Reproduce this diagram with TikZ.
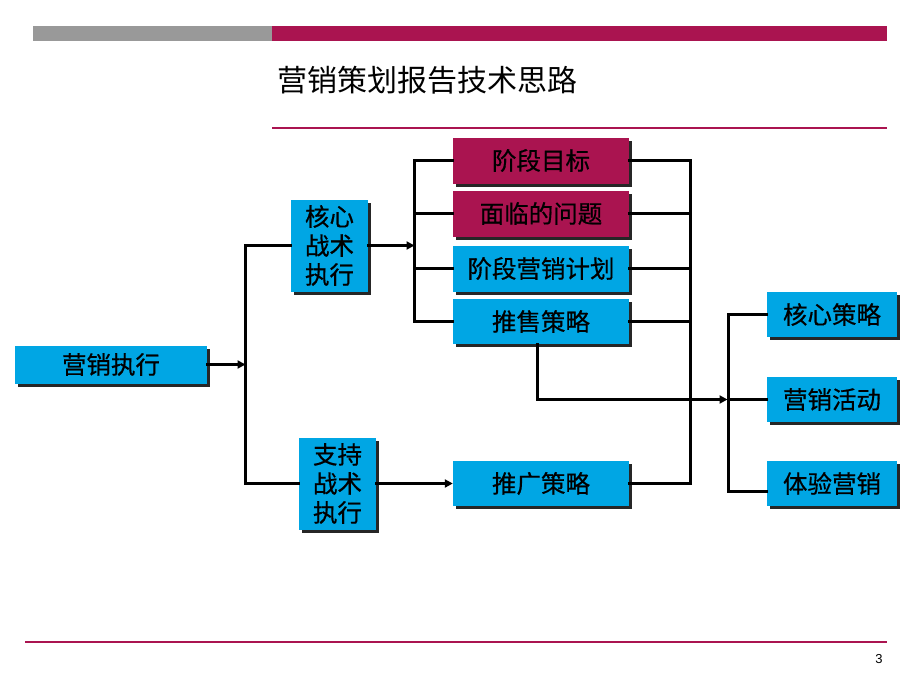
\documentclass[tikz,border=0pt]{standalone}
\usepackage{fontspec}
\newfontfamily\cjk{Noto Sans CJK SC}
\newfontfamily\cjkb[FakeBold=0.6]{Noto Sans CJK SC}
\setmainfont{Liberation Sans}
\usetikzlibrary{arrows.meta,shadows}
\definecolor{mag}{RGB}{170,20,80}
\definecolor{sky}{RGB}{0,166,228}
\definecolor{bargray}{RGB}{153,153,153}
\tikzset{
  box/.style={draw=none, inner sep=0pt, align=center, font=\cjkb\fontsize{24.5}{29}\selectfont,
    general shadow={fill=black!85, shadow xshift=3pt, shadow yshift=-3pt}},
  bluebox/.style={box, fill=sky},
  magbox/.style={box, fill=mag},
  wide/.style={minimum width=176pt, minimum height=46pt},
  rbox/.style={minimum width=130pt, minimum height=45pt},
  tall/.style={minimum width=77pt, minimum height=92pt},
  conn/.style={line width=3pt, line cap=rect},
  arr/.style={conn, -{Triangle[length=8pt,width=8pt]}},
}
\begin{document}
\begin{tikzpicture}[x=1pt,y=-1pt]
\path[use as bounding box, fill=white] (0,0) rectangle (920,690);
% header
\fill[bargray] (33,26) rectangle (272,41);
\fill[mag] (272,26) rectangle (887,41);
\node[anchor=west, inner sep=0pt, font=\cjk\fontsize{30}{34}\selectfont] (title) at (277,80) {营销策划报告技术思路};
\draw[mag, line width=1.3pt] (272,128) -- (887,128);
\draw[mag, line width=1.3pt] (25,642) -- (887,642);
\node[font=\fontsize{13}{15}\selectfont, inner sep=0pt] (pg) at (879,659) {3};
% boxes
\node[bluebox, minimum width=192pt, minimum height=38pt] (exec) at (111,364.5) {营销执行};
\node[bluebox, tall] (core) at (329.5,245.5) {核心\\战术\\执行};
\node[bluebox, tall] (supp) at (337.5,483.5) {支持\\战术\\执行};
\node[magbox, wide] (goal) at (541,160.5) {阶段目标};
\node[magbox, wide] (prob) at (541,213.5) {面临的问题};
\node[bluebox, wide] (plan) at (541,268.5) {阶段营销计划};
\node[bluebox, wide, minimum height=45pt] (sale) at (541,321.5) {推售策略};
\node[bluebox, wide, minimum height=45pt] (promo) at (541,483.5) {推广策略};
\node[bluebox, rbox] (cs) at (832,314.5) {核心策略};
\node[bluebox, rbox] (act) at (832,399.5) {营销活动};
\node[bluebox, rbox] (exp) at (832,483.5) {体验营销};
% bus coordinates
\coordinate (c1) at (245.5,364.5);
\coordinate (c2) at (414.5,245.5);
\coordinate (c3) at (690.5,0);
\coordinate (c4) at (728.5,0);
\coordinate (e4) at (728.5,491.5);
% left tree
\draw[arr] (exec.east) -- (c1);
\draw[conn] (core.west) -| (supp.west -| c1) -- (supp.west);
\draw[arr] (core.east) -- (c2);
\draw[conn] (goal.west -| c2) -- (sale.west -| c2);
\draw[conn] (goal.west -| c2) -- (goal.west);
\draw[conn] (prob.west -| c2) -- (prob.west);
\draw[conn] (plan.west -| c2) -- (plan.west);
\draw[conn] (sale.west -| c2) -- (sale.west);
\draw[arr] (supp.east) -- (promo.west);
% right bus
\draw[conn] (goal.east) -| (promo.east -| c3) -- (promo.east);
\draw[conn] (prob.east) -- (prob.east -| c3);
\draw[conn] (plan.east) -- (plan.east -| c3);
\draw[conn] (sale.east) -- (sale.east -| c3);
% to right column
\draw[arr] ([xshift=-3.5pt]sale.south) |- ([xshift=-1pt]act.west -| c4);
\draw[conn] (cs.west) -| (e4) -- (e4 -| exp.west);
\draw[conn] (act.west -| c4) -- (act.west);
\end{tikzpicture}
\end{document}
